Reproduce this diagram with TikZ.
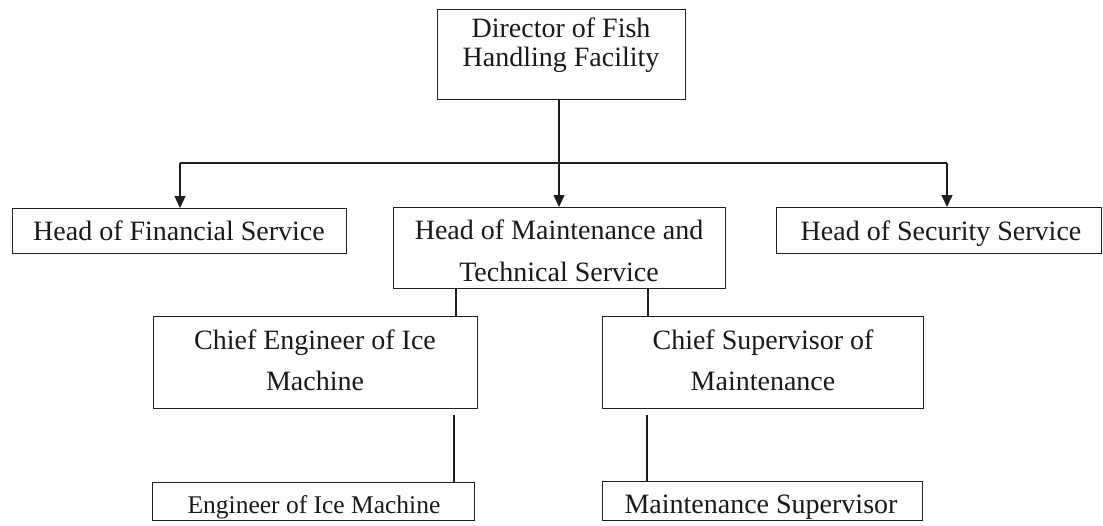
\documentclass[tikz,border=0pt]{standalone}
\usepackage{fontspec}
\setmainfont{Liberation Serif}
\usetikzlibrary{arrows.meta}
\begin{document}
\begin{tikzpicture}[x=1pt,y=-1pt,
  box/.style={draw=black!88, line width=1.4pt, inner sep=0pt, anchor=north west},
  txt/.style={anchor=base, inner sep=0pt, text=black!90, font=\fontsize{28pt}{30pt}\selectfont},
  small/.style={txt, font=\fontsize{25.5pt}{28pt}\selectfont},
  link/.style={draw=black!88, line width=1.4pt},
  arr/.style={link, -{Triangle[width=11pt,length=12pt]}}]
\useasboundingbox (0,0) rectangle (1103,525);

% boxes
\node[box, minimum width=248pt, minimum height=90pt] (dir) at (437,9) {};
\node[box, minimum width=334pt, minimum height=45pt] (fin) at (12,208) {};
\node[box, minimum width=332pt, minimum height=81pt] (mts) at (393,207) {};
\node[box, minimum width=325pt, minimum height=46pt] (sec) at (776,207) {};
\node[box, minimum width=324pt, minimum height=92pt] (ce) at (153,316) {};
\node[box, minimum width=321pt, minimum height=92pt] (cs) at (602,316) {};
\node[box, minimum width=322pt, minimum height=38pt] (eng) at (152,482) {};
\node[box, minimum width=320pt, minimum height=39pt] (ms) at (602,481) {};

% labels
\node[txt] (dir1) at (561,37) {Director of Fish};
\node[txt] (dir2) at (561,66) {Handling Facility};
\node[txt] (fint) at (179,240) {Head of Financial Service};
\node[txt] (mts1) at (559,239) {Head of Maintenance and};
\node[txt] (mts2) at (559,281) {Technical Service};
\node[txt] (sect) at (941,240) {Head of Security Service};
\node[txt] (ce1) at (315,349) {Chief Engineer of Ice};
\node[txt] (ce2) at (315,390) {Machine};
\node[txt] (cs1) at (763,349) {Chief Supervisor of};
\node[txt] (cs2) at (763,390) {Maintenance};
\node[small] (engt) at (314,513) {Engineer of Ice Machine};
\node[txt] (mst) at (761,513) {Maintenance Supervisor};

% distribution bus under the director
\coordinate (busL) at (180,163);
\coordinate (busM) at (559,163);
\coordinate (busR) at (947,163);
\draw[link] (busM |- dir.south) -- (busM);
\draw[link] (busL) -- (busR);
\draw[arr] (busL) -- (busL |- fin.north);
\draw[arr] (busM) -- (busM |- mts.north);
\draw[arr] (busR) -- (busR |- sec.north);

% maintenance branch
\coordinate (dropL) at (456,288);
\coordinate (dropR) at (648,288);
\draw[link] (dropL |- mts.south) -- (dropL |- ce.north);
\draw[link] (dropR |- mts.south) -- (dropR |- cs.north);
\coordinate (ceout) at (454,415);
\coordinate (csout) at (647,415);
\draw[link] (ceout) -- (ceout |- eng.north);
\draw[link] (csout) -- (csout |- ms.north);
\end{tikzpicture}
\end{document}
